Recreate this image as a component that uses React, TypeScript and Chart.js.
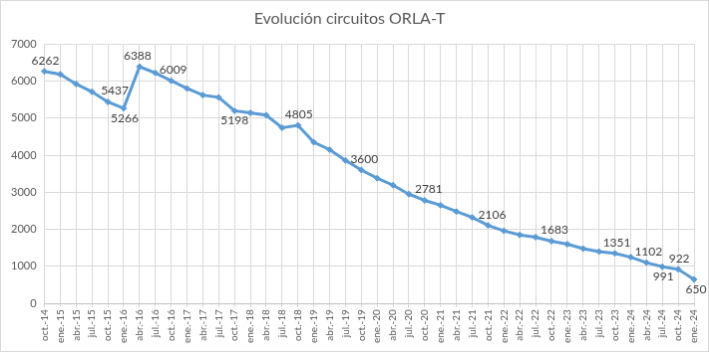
import React, { useEffect, useRef } from "react";
import { Chart, registerables } from "chart.js";

Chart.register(...registerables);

const categories = [
  "oct.-14", "ene.-15", "abr.-15", "jul.-15", "oct.-15", "ene.-16", "abr.-16", "jul.-16",
  "oct.-16", "ene.-17", "abr.-17", "jul.-17", "oct.-17", "ene.-18", "abr.-18", "jul.-18",
  "oct.-18", "ene.-19", "abr.-19", "jul.-19", "oct.-19", "ene.-20", "abr.-20", "jul.-20",
  "oct.-20", "ene.-21", "abr.-21", "jul.-21", "oct.-21", "ene.-22", "abr.-22", "jul.-22",
  "oct.-22", "ene.-23", "abr.-23", "jul.-23", "oct.-23", "ene.-24", "abr.-24", "jul.-24",
  "oct.-24", "ene.-24",
];

const circuitos = [
  6262, 6180, 5920, 5710, 5437, 5266, 6388, 6220,
  6009, 5800, 5620, 5560, 5198, 5140, 5080, 4740,
  4805, 4350, 4150, 3860, 3600, 3380, 3190, 2950,
  2781, 2650, 2480, 2320, 2106, 1960, 1850, 1790,
  1683, 1600, 1480, 1400, 1351, 1250, 1102, 991,
  922, 650,
];

// index -> label placement ("a" above, "b" below)
const labelIdx = [0, 4, 5, 6, 8, 12, 16, 20, 24, 28, 32, 36, 38, 39, 40, 41];
const labelPos = ["a", "a", "b", "a", "a", "b", "a", "a", "a", "a", "a", "a", "a", "b", "a", "b"];
const labelDx = [1, 7, 1, -2, 2, 0, 1, 3, 4, 4, 3, 2, 2, 1, 1, 2];

const yTicks = { min: 0, max: 7000, step: 1000 };

const FONT = "Lato, 'Open Sans', 'Liberation Sans', sans-serif";

const labelsPlugin = {
  id: "pointLabels",
  afterDatasetsDraw(chart: any) {
    const meta = chart.getDatasetMeta(0);
    const ctx = chart.ctx;
    ctx.save();
    ctx.font = `12px ${FONT}`;
    ctx.fillStyle = "#404040";
    ctx.textAlign = "center";
    labelIdx.forEach((idx, k) => {
      const pt = meta.data[idx];
      if (!pt) return;
      const text = String(circuitos[idx]);
      if (labelPos[k] === "a") {
        ctx.textBaseline = "bottom";
        ctx.fillText(text, pt.x + labelDx[k], pt.y - 5);
      } else {
        ctx.textBaseline = "top";
        ctx.fillText(text, pt.x + labelDx[k], pt.y + 4);
      }
    });
    ctx.restore();
  },
};

export default function App() {
  const ref = useRef<HTMLCanvasElement>(null);
  useEffect(() => {
    document.body.style.margin = "0";
    const canvas = ref.current!;
    const chart = new Chart(canvas, {
      type: "line",
      data: {
        labels: categories,
        datasets: [
          {
            data: circuitos,
            borderColor: "#5B9BD5",
            backgroundColor: "#5B9BD5",
            borderWidth: 3,
            pointStyle: "rectRot",
            pointRadius: 3,
            pointBorderWidth: 1,
            tension: 0,
          },
        ],
      },
      options: {
        animation: false,
        responsive: false,
        maintainAspectRatio: false,
        layout: { padding: { left: 2, right: 12, top: 4, bottom: 6 } },
        plugins: {
          legend: { display: false },
          tooltip: { enabled: false },
          title: {
            display: true,
            text: "Evolución circuitos ORLA-T",
            color: "#595959",
            font: { family: FONT, size: 16, weight: "normal" },
            padding: { top: 4, bottom: 16 },
          },
        },
        scales: {
          x: {
            offset: false,
            grid: { color: "#d9d9d9", tickLength: 4, drawTicks: true },
            border: { color: "#bfbfbf" },
            ticks: {
              autoSkip: false,
              maxRotation: 90,
              minRotation: 90,
              color: "#595959",
              font: { family: FONT, size: 10 },
              padding: 2,
            },
          },
          y: {
            min: yTicks.min,
            max: yTicks.max,
            grid: { color: "#d9d9d9", drawTicks: false },
            border: { display: false },
            ticks: {
              stepSize: yTicks.step,
              color: "#595959",
              font: { family: FONT, size: 11 },
              padding: 8,
              callback: (v: any) => String(v),
            },
          },
        },
      },
      plugins: [labelsPlugin],
    });
    return () => chart.destroy();
  }, []);
  return (
    <div style={{ width: 709, height: 352, position: "relative", boxSizing: "border-box" }}>
      <canvas ref={ref} width={709} height={352} style={{ display: "block", border: "1px solid #d9d9d9", boxSizing: "border-box" }} />
    </div>
  );
}
